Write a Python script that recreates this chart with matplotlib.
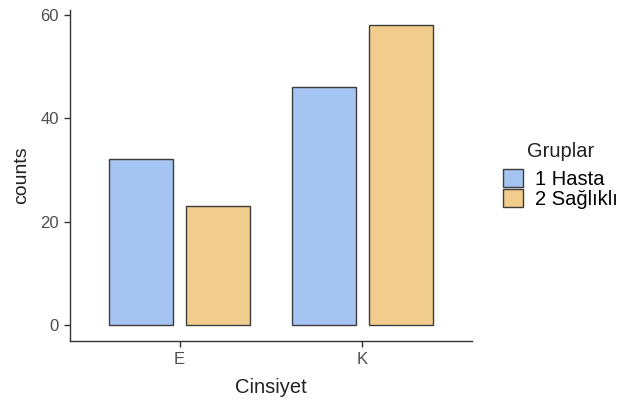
import matplotlib
matplotlib.use("Agg")
import matplotlib.pyplot as plt
import numpy as np
from matplotlib.patches import Patch

plt.rcParams["font.family"] = ["Liberation Sans", "DejaVu Sans"]

categories = ["E", "K"]
groups = ["1 Hasta", "2 Sağlıklı"]
hasta = [32, 46]
saglikli = [23, 58]
colors = ["#a6c4f2", "#f0cd8c"]

fig = plt.figure(figsize=(6.19, 4.01), dpi=100)
ax = fig.add_axes([0.1131, 0.1496, 0.6494, 0.8254])

x = np.arange(1, len(categories) + 1)
width = 0.35
offset = 0.21
for vals, off, col in zip([hasta, saglikli], [-offset, offset], colors):
    ax.bar(x + off, vals, width=width, color=col, edgecolor="#3d3d3d", linewidth=1.0)

ax.set_xlim(0.4, 2.6)
ax.set_ylim(-3.1, 60.9)
ax.set_xticks(x)
ax.set_xticklabels(categories)
ax.set_yticks([0, 20, 40, 60])

for side in ["top", "right"]:
    ax.spines[side].set_visible(False)
for side in ["left", "bottom"]:
    ax.spines[side].set_color("#333333")
    ax.spines[side].set_linewidth(1.0)
ax.tick_params(axis="both", colors="#333333", labelcolor="#4d4d4d", labelsize=12,
               length=4, width=1, pad=4)

ax.set_xlabel("Cinsiyet", fontsize=14.5, color="#222222", labelpad=8)
ax.set_ylabel("counts", fontsize=14, color="#222222", labelpad=7)

# legend title drawn separately so it sits centred like ggplot's
fig.text(561 / 619, 0.6085, "Gruplar", ha="center", va="baseline",
         fontsize=14.5, color="#222222")
handles = [Patch(facecolor=c, edgecolor="#3d3d3d", linewidth=1.0) for c in colors]
fig.legend(handles, groups, loc="upper left",
           bbox_to_anchor=(503 / 619, 0.5786), frameon=False, fontsize=14.5,
           handlelength=1.0, handleheight=1.0,
           handletextpad=0.6, labelspacing=0.0, borderpad=0, borderaxespad=0)

fig.savefig("out.png", dpi=100)
